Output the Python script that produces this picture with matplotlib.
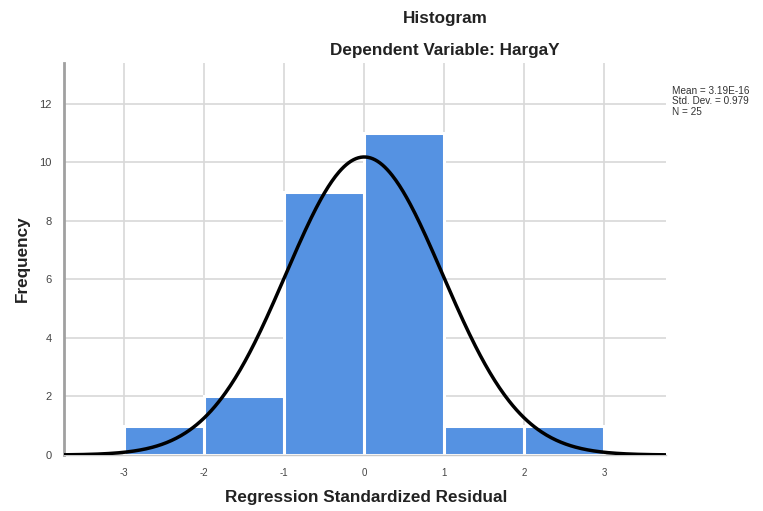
import numpy as np
import matplotlib
matplotlib.use("Agg")
import matplotlib.pyplot as plt

plt.rcParams['font.family'] = ['Liberation Sans', 'DejaVu Sans']

bin_edges = [-3, -2, -1, 0, 1, 2, 3]
counts = [1, 2, 9, 11, 1, 1]
mean = 3.19e-16
std = 0.979
n = 25
xticks = [-3, -2, -1, 0, 1, 2, 3]
yticks = [0, 2, 4, 6, 8, 10, 12]

W, H = 763, 511
fig = plt.figure(figsize=(W / 100, H / 100), dpi=100)
ax = fig.add_axes([64 / W, 1 - 455 / H, (666 - 64) / W, (455 - 63) / H])

ax.set_xlim(-3.75, 3.77)
ax.set_ylim(0, 13.4)

widths = np.diff(bin_edges)
ax.bar(bin_edges[:-1], counts, width=widths, align='edge', color='#5592E2',
       edgecolor='white', linewidth=2.2, zorder=2)

xs = np.linspace(-3.75, 3.77, 500)
binw = 1.0
ys = n * binw / (std * np.sqrt(2 * np.pi)) * np.exp(-0.5 * ((xs - mean) / std) ** 2)
ax.plot(xs, ys, color='black', linewidth=2.5, zorder=3, solid_capstyle='butt')

ax.set_xticks(xticks)
ax.set_xticklabels([str(v) for v in xticks], fontsize=7, color='#444444')
ax.set_yticks(yticks)
ax.set_yticklabels([str(v) for v in yticks], fontsize=8, color='#444444')
ax.tick_params(axis='x', length=0, pad=9)
ax.tick_params(axis='y', length=0, pad=9)
ax.grid(True, color='#d8d8d8', linewidth=1.2, zorder=0)
ax.set_axisbelow(True)
for s in ['top', 'right']:
    ax.spines[s].set_visible(False)
ax.spines['left'].set_color('#a0a0a0')
ax.spines['left'].set_linewidth(2)
ax.spines['bottom'].set_color('#c8c8c8')
ax.spines['bottom'].set_linewidth(1)

fig.text(445 / W, 1 - 18 / H, 'Histogram', ha='center', va='center',
         fontsize=12.3, fontweight='bold', color='#222222')
fig.text(445 / W, 1 - 50 / H, 'Dependent Variable: HargaY', ha='center', va='center',
         fontsize=12.3, fontweight='bold', color='#222222')
fig.text(366 / W, 1 - 497 / H, 'Regression Standardized Residual', ha='center', va='center',
         fontsize=12.3, fontweight='bold', color='#222222')
fig.text(22 / W, 1 - 259 / H, 'Frequency', ha='center', va='center', rotation=90,
         fontsize=12.3, fontweight='bold', color='#222222')
fig.text(672 / W, 1 - 86 / H,
         f'Mean = 3.19E-16\nStd. Dev. = {std}\nN = {n}',
         ha='left', va='top', fontsize=7.2, color='#333333', linespacing=1.05)

fig.savefig('out.png', dpi=100)
